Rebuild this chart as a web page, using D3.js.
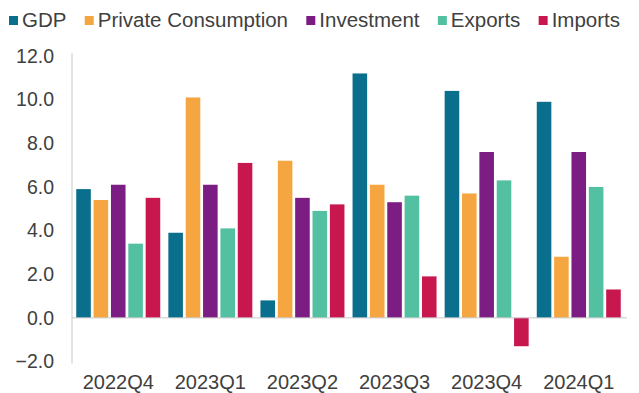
<!DOCTYPE html>
<html>
<head>
<meta charset="utf-8">
<script src="https://cdn.jsdelivr.net/npm/d3@7"></script>
<style>
  body { margin: 0; background: #fff; }
  svg text { font-family: "Liberation Sans", Arial, sans-serif; fill: #404040; }
</style>
</head>
<body>
<div id="chart"></div>
<script>
const quarters = ["2022Q4", "2023Q1", "2023Q2", "2023Q3", "2023Q4", "2024Q1"]
const seriesNames = ["GDP", "Private Consumption", "Investment", "Exports", "Imports"]
const seriesColors = ["#0a6f8c", "#f6a640", "#7b1d82", "#53c0a2", "#c8164f"]

const gdp = [5.9, 3.9, 0.8, 11.2, 10.4, 9.9]
const privateConsumption = [5.4, 10.1, 7.2, 6.1, 5.7, 2.8]
const investment = [6.1, 6.1, 5.5, 5.3, 7.6, 7.6]
const exports = [3.4, 4.1, 4.9, 5.6, 6.3, 6.0]
const imports = [5.5, 7.1, 5.2, 1.9, -1.3, 1.3]

const yTicks = [-2, 0, 2, 4, 6, 8, 10, 12]

const seriesValues = [gdp, privateConsumption, investment, exports, imports]

const width = 639, height = 393
const svg = d3.select("#chart").append("svg")
  .attr("width", width)
  .attr("height", height)

const y = d3.scaleLinear().domain([-2, 12]).range([361.5, 56])

const x0 = d3.scaleBand()
  .domain(quarters)
  .range([72, 625])
  .paddingInner(0.088)
  .paddingOuter(0.046)

const x1 = d3.scaleBand()
  .domain(seriesNames)
  .range([0, x0.bandwidth()])
  .paddingInner(0.16)
  .paddingOuter(0)

const color = d3.scaleOrdinal().domain(seriesNames).range(seriesColors)

// y labels
svg.append("g")
  .selectAll("text")
  .data(yTicks)
  .enter()
  .append("text")
    .attr("x", 54)
    .attr("y", d => y(d))
    .attr("dy", "0.35em")
    .attr("text-anchor", "end")
    .style("font-size", "19.5px")
    .text(d => d3.format(".1f")(d))

// bars
const groups = svg.append("g")
  .selectAll("g")
  .data(quarters)
  .enter()
  .append("g")
    .attr("transform", q => `translate(${x0(q)},0)`)

groups.selectAll("rect")
  .data((q, i) => seriesNames.map((s, j) => ({ name: s, value: seriesValues[j][i] })))
  .enter()
  .append("rect")
    .attr("x", d => x1(d.name))
    .attr("width", x1.bandwidth())
    .attr("y", d => y(Math.max(0, d.value)))
    .attr("height", d => Math.abs(y(d.value) - y(0)))
    .attr("fill", d => color(d.name))

// axis lines
svg.append("line")
  .attr("x1", 72).attr("x2", 72)
  .attr("y1", y(12) - 3).attr("y2", y(-2) + 2)
  .attr("stroke", "#c8c8c8")
  .attr("stroke-width", 1)

svg.append("line")
  .attr("x1", 72).attr("x2", 627)
  .attr("y1", y(0)).attr("y2", y(0))
  .attr("stroke", "#c8c8c8")
  .attr("stroke-width", 1)

// x labels
svg.append("g")
  .selectAll("text")
  .data(quarters)
  .enter()
  .append("text")
    .attr("x", q => x0(q) + x0.bandwidth() / 2)
    .attr("y", 389)
    .attr("text-anchor", "middle")
    .style("font-size", "20px")
    .text(q => q)

// legend
const legend = svg.append("g")
const items = legend.selectAll("g")
  .data(seriesNames)
  .enter()
  .append("g")

items.append("rect")
  .attr("width", 9)
  .attr("height", 9)
  .attr("y", 16)
  .attr("fill", d => color(d))

items.append("text")
  .attr("x", 13)
  .attr("y", 27)
  .style("font-size", "20.5px")
  .text(d => d)

const widths = []
items.each(function() { widths.push(13 + this.querySelector("text").getComputedTextLength()) })
const legendStart = 9, legendEnd = 620
const gap = (legendEnd - legendStart - d3.sum(widths)) / (widths.length - 1)
let pos = legendStart
items.attr("transform", (d, i) => {
  const t = `translate(${pos},0)`
  pos += widths[i] + gap
  return t
})
</script>
</body>
</html>
